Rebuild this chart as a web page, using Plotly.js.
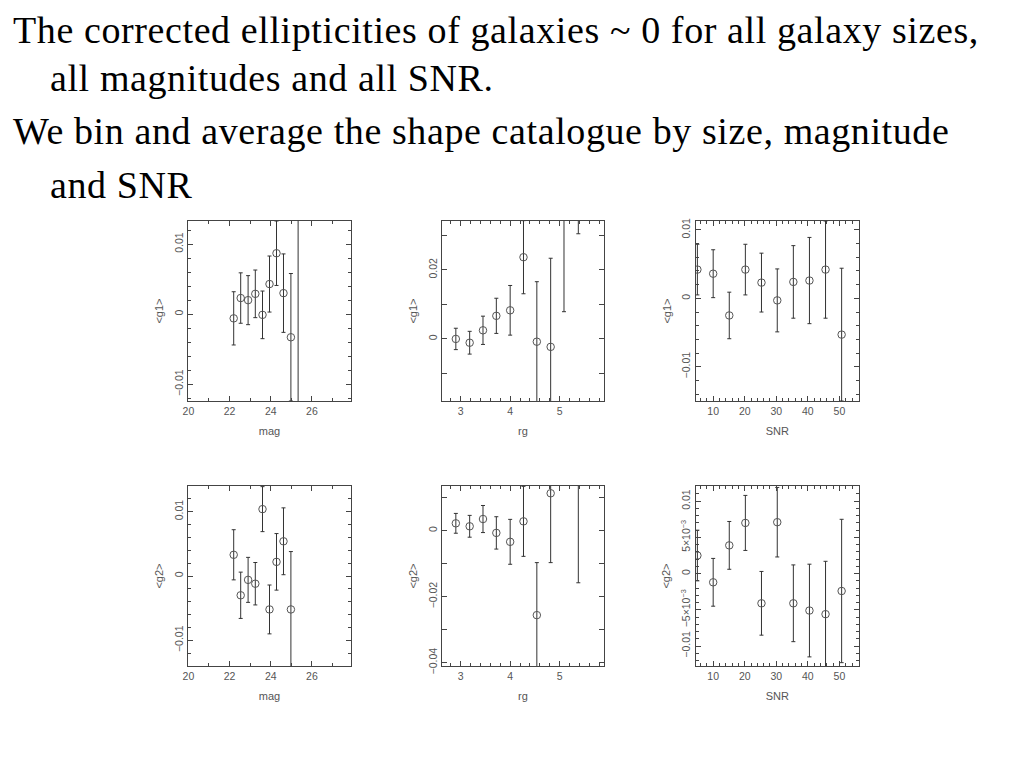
<!DOCTYPE html>
<html>
<head>
<meta charset="utf-8">
<script src="https://cdn.plot.ly/plotly-3.0.1.min.js"></script>
<style>
html,body{margin:0;padding:0;background:#fff;}
#chart{width:1024px;height:768px;}
#chart .annotation-text{letter-spacing:0.6px;}
</style>
</head>
<body>
<div id="chart"></div>
<script>
// ---- data ----
const magX     = [22.2, 22.54, 22.9, 23.25, 23.6, 23.94, 24.28, 24.62, 24.98, 25.33];
const magG1    = [-0.0006, 0.0023, 0.0020, 0.0029, -0.0001, 0.0043, 0.0087, 0.0030, -0.0033, 0.02];
const magG1Err = [0.0038, 0.0036, 0.0035, 0.0034, 0.0034, 0.0040, 0.0046, 0.0056, 0.0091, 0.035];
const magG2    = [0.0033, -0.0030, -0.0006, -0.0012, 0.0104, -0.0052, 0.0022, 0.0054, -0.0052, null];
const magG2Err = [0.0039, 0.0036, 0.0035, 0.0033, 0.0035, 0.0038, 0.0044, 0.0052, 0.0090, null];

const rgX     = [2.9, 3.18, 3.45, 3.72, 4.0, 4.27, 4.54, 4.82, 5.09, 5.38];
const rgG1    = [0.0, -0.0011, 0.0025, 0.0067, 0.0083, 0.0237, -0.0008, -0.0023, 0.040, 0.045];
const rgG1Err = [0.0031, 0.0033, 0.0041, 0.0051, 0.0072, 0.0106, 0.0174, 0.0257, 0.0321, 0.0145];
const rgG2    = [0.0022, 0.0013, 0.0035, -0.0007, -0.0034, 0.0028, -0.0256, 0.0113, null, 0.015];
const rgG2Err = [0.0030, 0.0033, 0.0041, 0.0049, 0.0068, 0.0106, 0.0159, 0.0210, null, 0.0308];

const snrX     = [5.0, 10.0, 15.1, 20.2, 25.3, 30.3, 35.4, 40.5, 45.6, 50.7];
const snrG1    = [0.0042, 0.0036, -0.0025, 0.0042, 0.0023, -0.0003, 0.0024, 0.0026, 0.0042, -0.0053];
const snrG1Err = [0.0037, 0.0035, 0.0034, 0.0037, 0.0043, 0.0046, 0.0053, 0.0063, 0.0071, 0.0097];
const snrG2    = [0.0025, -0.0012, 0.0039, 0.0070, -0.0041, 0.0071, -0.0041, -0.0051, -0.0056, -0.0024];
const snrG2Err = [0.0035, 0.0033, 0.0033, 0.0038, 0.0044, 0.0048, 0.0053, 0.0064, 0.0073, 0.0099];

const headingLines = [
  "The corrected ellipticities of galaxies ~ 0 for all galaxy sizes,",
  "all magnitudes and all SNR.",
  "We bin and average the shape catalogue by size, magnitude",
  "and SNR"
];

// ---- styling ----
const MARK = '#555';
const ERRC = '#333';
const AXC = '#444';
const TICKF = {family: 'Liberation Sans, Arial, sans-serif', size: 10.5, color: '#555'};
const TITLEF = {family: 'Liberation Sans, Arial, sans-serif', size: 11, color: '#555'};

function tr(x, y, e, xa, ya) {
  return {
    x: x, y: y, xaxis: xa, yaxis: ya, type: 'scatter', mode: 'markers',
    marker: {symbol: 'circle-open', size: 7.5, color: MARK, line: {width: 1, color: MARK}},
    error_y: {type: 'data', array: e, visible: true, color: ERRC, thickness: 1, width: 2},
    cliponaxis: true, hoverinfo: 'skip', showlegend: false
  };
}

const data = [
  tr(magX, magG1, magG1Err, 'x', 'y'),
  tr(rgX, rgG1, rgG1Err, 'x2', 'y2'),
  tr(snrX, snrG1, snrG1Err, 'x3', 'y3'),
  tr(magX, magG2, magG2Err, 'x4', 'y4'),
  tr(rgX, rgG2, rgG2Err, 'x5', 'y5'),
  tr(snrX, snrG2, snrG2Err, 'x6', 'y6')
];

function xax(dom, range, dtick, minor, anchor, title) {
  return {
    domain: dom, range: range, anchor: anchor, dtick: dtick, tick0: 0,
    showgrid: false, zeroline: false, showline: true, linecolor: AXC, linewidth: 1,
    mirror: 'ticks', ticks: 'inside', ticklen: 5, tickcolor: AXC, tickwidth: 1,
    minor: {dtick: minor, ticks: 'inside', ticklen: 3, tickcolor: AXC, showgrid: false},
    tickfont: TICKF, title: {text: title, font: TITLEF, standoff: 11}, fixedrange: true
  };
}
function yax(dom, range, tickvals, ticktext, minor, minorLen, anchor, title) {
  return {
    domain: dom, range: range, anchor: anchor, tickmode: 'array', tickvals: tickvals, ticktext: ticktext,
    showgrid: false, zeroline: false, showline: true, linecolor: AXC, linewidth: 1,
    mirror: 'ticks', ticks: 'inside', ticklen: 5, tickcolor: AXC, tickwidth: 1,
    minor: {dtick: minor, tick0: 0, ticks: 'inside', ticklen: minorLen, tickcolor: AXC, showgrid: false},
    tickangle: -90, tickfont: TICKF, title: {text: title, font: TITLEF, standoff: 6}, fixedrange: true
  };
}

const c1 = [188/1024, 351/1024], c2 = [442/1024, 604/1024], c3 = [695.5/1024, 859/1024];
const r1 = [1 - 401/768, 1 - 221/768], r2 = [1 - 666/768, 1 - 486/768];

const annotations = [];
const headX = [11, 48, 11, 48];
const headY = [30, 78, 131, 185];
headingLines.forEach((t, i) => {
  annotations.push({
    text: t, xref: 'paper', yref: 'paper', x: headX[i] / 1024, y: 1 - headY[i] / 768,
    xanchor: 'left', yanchor: 'middle', showarrow: false, align: 'left',
    font: {family: 'Liberation Serif, Times New Roman, serif', size: 38, color: '#000'}
  });
});

const layout = {
  width: 1024, height: 768, margin: {l: 0, r: 0, t: 0, b: 0},
  paper_bgcolor: '#fff', plot_bgcolor: '#fff', showlegend: false,
  xaxis:  xax(c1, [19.98, 27.9], 2, 1, 'y', 'mag'),
  xaxis2: xax(c2, [2.62, 5.9], 1, 0.2, 'y2', 'rg'),
  xaxis3: xax(c3, [4.4, 56.2], 10, 2, 'y3', 'SNR'),
  xaxis4: xax(c1, [19.98, 27.9], 2, 1, 'y4', 'mag'),
  xaxis5: xax(c2, [2.62, 5.9], 1, 0.2, 'y5', 'rg'),
  xaxis6: xax(c3, [4.4, 56.2], 10, 2, 'y6', 'SNR'),
  yaxis:  yax(r1, [-0.0124, 0.0133], [-0.01, 0, 0.01], ['−0.01', '0', '0.01'], 0.002, 3, 'x', '<g1>'),
  yaxis2: yax(r1, [-0.018, 0.0342], [0, 0.02], ['0', '0.02'], 0.01, 5, 'x2', '<g1>'),
  yaxis3: yax(r1, [-0.015, 0.0113], [-0.01, 0, 0.01], ['−0.01', '0', '0.01'], 0.002, 3, 'x3', '<g1>'),
  yaxis4: yax(r2, [-0.014, 0.014], [-0.01, 0, 0.01], ['−0.01', '0', '0.01'], 0.002, 3, 'x4', '<g2>'),
  yaxis5: yax(r2, [-0.041, 0.0135], [-0.04, -0.02, 0], ['−0.04', '−0.02', '0'], 0.01, 5, 'x5', '<g2>'),
  yaxis6: yax(r2, [-0.01276, 0.0121], [-0.01, -0.005, 0, 0.005, 0.01], ['−0.01', '−5×10<sup>−3</sup>', '0', '5×10<sup>−3</sup>', '0.01'], 0.001, 3, 'x6', '<g2>'),
  annotations: annotations
};

Plotly.newPlot('chart', data, layout, {staticPlot: true, displayModeBar: false});
</script>
</body>
</html>
